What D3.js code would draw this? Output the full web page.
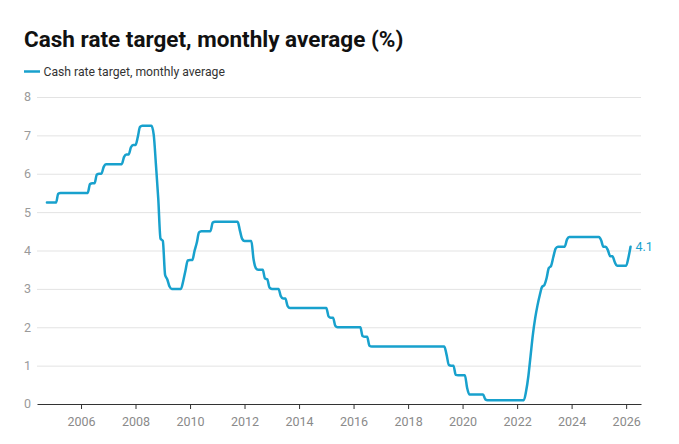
<!DOCTYPE html>
<html>
<head>
<meta charset="utf-8">
<script src="https://cdn.jsdelivr.net/npm/d3@7"></script>
<style>
  body { margin: 0; background: #fff; font-family: Roboto, "Noto Sans", sans-serif; }
</style>
</head>
<body>
<script>
// chart values
var title = "Cash rate target, monthly average (%)";
var seriesName = "Cash rate target, monthly average";
var firstMonth = [2004, 9];   // year, month index (Oct 2004)

// monthly averages, one row per year
var rates = [
  5.25, 5.25, 5.25,
  5.25, 5.25, 5.48, 5.5, 5.5, 5.5, 5.5, 5.5, 5.5, 5.5, 5.5, 5.5,
  5.5, 5.5, 5.5, 5.5, 5.73, 5.75, 5.75, 5.98, 6, 6, 6.18, 6.25,
  6.25, 6.25, 6.25, 6.25, 6.25, 6.25, 6.25, 6.44, 6.5, 6.5, 6.69, 6.75,
  6.75, 6.96, 7.22, 7.25, 7.25, 7.25, 7.25, 7.25, 7.02, 6.23, 5.35, 4.31,
  4.25, 3.36, 3.25, 3.06, 3, 3, 3, 3, 3, 3.2, 3.48, 3.74,
  3.75, 3.75, 3.98, 4.2, 4.47, 4.5, 4.5, 4.5, 4.5, 4.5, 4.73, 4.75,
  4.75, 4.75, 4.75, 4.75, 4.75, 4.75, 4.75, 4.75, 4.75, 4.75, 4.51, 4.3,
  4.25, 4.25, 4.25, 4.25, 3.77, 3.54, 3.5, 3.5, 3.5, 3.27, 3.25, 3.03,
  3, 3, 3, 3, 2.81, 2.75, 2.75, 2.55, 2.5, 2.5, 2.5, 2.5,
  2.5, 2.5, 2.5, 2.5, 2.5, 2.5, 2.5, 2.5, 2.5, 2.5, 2.5, 2.5,
  2.5, 2.28, 2.25, 2.25, 2.04, 2, 2, 2, 2, 2, 2, 2,
  2, 2, 2, 2, 1.77, 1.75, 1.75, 1.52, 1.5, 1.5, 1.5, 1.5,
  1.5, 1.5, 1.5, 1.5, 1.5, 1.5, 1.5, 1.5, 1.5, 1.5, 1.5, 1.5,
  1.5, 1.5, 1.5, 1.5, 1.5, 1.5, 1.5, 1.5, 1.5, 1.5, 1.5, 1.5,
  1.5, 1.5, 1.5, 1.5, 1.5, 1.28, 1.02, 1, 1, 0.76, 0.75, 0.75,
  0.75, 0.75, 0.43, 0.25, 0.25, 0.25, 0.25, 0.25, 0.25, 0.25, 0.12, 0.1,
  0.1, 0.1, 0.1, 0.1, 0.1, 0.1, 0.1, 0.1, 0.1, 0.1, 0.1, 0.1,
  0.1, 0.1, 0.1, 0.1, 0.33, 0.73, 1.27, 1.82, 2.25, 2.57, 2.84, 3.05,
  3.1, 3.29, 3.54, 3.6, 3.83, 4.05, 4.1, 4.1, 4.1, 4.1, 4.29, 4.35,
  4.35, 4.35, 4.35, 4.35, 4.35, 4.35, 4.35, 4.35, 4.35, 4.35, 4.35, 4.35,
  4.35, 4.26, 4.1, 4.1, 4.01, 3.85, 3.85, 3.7, 3.6, 3.6, 3.6, 3.6,
  3.6, 3.82, 4.1
];

var yTicks = [0, 1, 2, 3, 4, 5, 6, 7, 8];
var xTickYears = [2006, 2008, 2010, 2012, 2014, 2016, 2018, 2020, 2022, 2024, 2026];

var width = 679, height = 444;
var blue = "#18a1cd";

var data = rates.map(function(v, i){
  return { date: new Date(firstMonth[0], firstMonth[1] + i, 1), value: v };
});

var svg = d3.select("body").append("svg")
  .attr("width", width)
  .attr("height", height);

var x = d3.scaleTime()
  .domain([new Date(2004, 4, 21), new Date(2026, 6, 19)])
  .range([37, 641]);

var y = d3.scaleLinear()
  .domain([0, 8])
  .range([404, 97]);

// title
svg.append("text")
  .attr("x", 24).attr("y", 47)
  .attr("font-size", 22.5).attr("font-weight", 700)
  .attr("fill", "#111")
  .text(title);

// legend
svg.append("line")
  .attr("x1", 24).attr("x2", 40)
  .attr("y1", 71.5).attr("y2", 71.5)
  .attr("stroke", blue).attr("stroke-width", 2.5);
svg.append("text")
  .attr("x", 43.5).attr("y", 75.5)
  .attr("font-size", 12.2).attr("fill", "#333")
  .text(seriesName);

// gridlines + y labels
var grid = svg.append("g");
grid.selectAll("line")
  .data(yTicks.filter(function(d){ return d > 0; }))
  .enter().append("line")
  .attr("x1", 37).attr("x2", 641)
  .attr("y1", function(d){ return y(d) + 0.5; })
  .attr("y2", function(d){ return y(d) + 0.5; })
  .attr("stroke", "#e3e3e3").attr("stroke-width", 1);

grid.selectAll("text")
  .data(yTicks)
  .enter().append("text")
  .attr("x", 24)
  .attr("y", function(d){ return y(d); })
  .attr("dy", "0.35em")
  .attr("font-size", 12.5).attr("fill", "#9a9a9a")
  .text(function(d){ return d; });

// x axis
var xAxis = d3.axisBottom(x)
  .tickValues(xTickYears.map(function(yr){ return new Date(yr, 0, 1); }))
  .tickFormat(d3.timeFormat("%Y"))
  .tickSize(5)
  .tickSizeOuter(0)
  .tickPadding(8);

var ax = svg.append("g")
  .attr("transform", "translate(0," + 404 + ")")
  .call(xAxis);
ax.select(".domain").attr("stroke", "#333");
ax.selectAll(".tick line").attr("stroke", "#333");
ax.selectAll(".tick text")
  .attr("font-size", 12.5)
  .attr("font-family", "Roboto, sans-serif")
  .attr("fill", "#8a8a8a");

// the line
var line = d3.line()
  .x(function(d){ return x(d.date); })
  .y(function(d){ return y(d.value); })
  .curve(d3.curveMonotoneX);

svg.append("path")
  .datum(data)
  .attr("fill", "none")
  .attr("stroke", blue)
  .attr("stroke-width", 2.5)
  .attr("stroke-linejoin", "round")
  .attr("stroke-linecap", "round")
  .attr("d", line);

// end value label
var last = data[data.length - 1];
svg.append("text")
  .attr("x", x(last.date) + 5)
  .attr("y", y(last.value))
  .attr("dy", "0.35em")
  .attr("font-size", 12.5)
  .attr("fill", blue)
  .text(d3.format(".1f")(last.value));
</script>
</body>
</html>
